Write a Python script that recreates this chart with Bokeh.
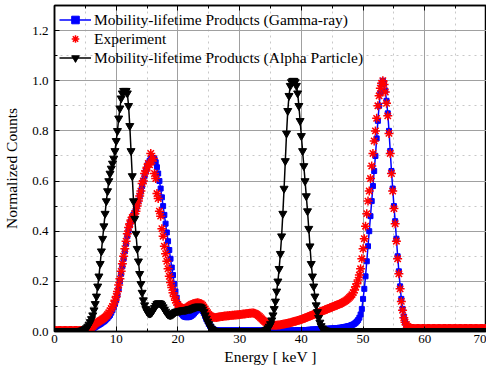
from bokeh.plotting import figure
from bokeh.models import LinearAxis, SingleIntervalTicker, CustomJSTickFormatter, Range1d
from bokeh.embed import file_html
from bokeh.resources import INLINE

# Energy grid (keV), 0.2 keV steps
energy = [round(i * 0.2, 1) for i in range(351)]

# Mobility-lifetime Products (Gamma-ray)
gamma = [
    0.003, 0.003, 0.003, 0.003, 0.003,  # 0
    0.003, 0.003, 0.003, 0.003, 0.003,  # 1
    0.003, 0.003, 0.003, 0.003, 0.003,  # 2
    0.003, 0.003, 0.003, 0.003, 0.003,  # 3
    0.003, 0.003, 0.003, 0.003, 0.003,  # 4
    0.003, 0.004, 0.005, 0.006, 0.008,  # 5
    0.01, 0.012, 0.015, 0.018, 0.021,  # 6
    0.024, 0.027, 0.03, 0.033, 0.037,  # 7
    0.04, 0.044, 0.049, 0.054, 0.06,  # 8
    0.066, 0.075, 0.085, 0.097, 0.11,  # 9
    0.125, 0.145, 0.17, 0.2, 0.23,  # 10
    0.26, 0.29, 0.32, 0.35, 0.38,  # 11
    0.405, 0.425, 0.44, 0.455, 0.465,  # 12
    0.475, 0.49, 0.505, 0.52, 0.54,  # 13
    0.56, 0.58, 0.6, 0.62, 0.64,  # 14
    0.655, 0.67, 0.68, 0.688, 0.692,  # 15
    0.692, 0.688, 0.675, 0.655, 0.63,  # 16
    0.6, 0.57, 0.535, 0.5, 0.465,  # 17
    0.43, 0.395, 0.36, 0.325, 0.29,  # 18
    0.255, 0.225, 0.19, 0.16, 0.135,  # 19
    0.11, 0.093, 0.08, 0.07, 0.064,  # 20
    0.06, 0.058, 0.057, 0.057, 0.058,  # 21
    0.06, 0.063, 0.067, 0.072, 0.078,  # 22
    0.083, 0.087, 0.09, 0.09, 0.088,  # 23
    0.082, 0.073, 0.062, 0.05, 0.04,  # 24
    0.03, 0.022, 0.016, 0.011, 0.008,  # 25
    0.006, 0.005, 0.004, 0.004, 0.004,  # 26
    0.004, 0.004, 0.004, 0.004, 0.004,  # 27
    0.004, 0.004, 0.004, 0.004, 0.004,  # 28
    0.004, 0.004, 0.004, 0.004, 0.004,  # 29
    0.004, 0.004, 0.004, 0.004, 0.004,  # 30
    0.004, 0.004, 0.004, 0.004, 0.004,  # 31
    0.004, 0.004, 0.004, 0.004, 0.004,  # 32
    0.004, 0.004, 0.004, 0.004, 0.004,  # 33
    0.004, 0.004, 0.004, 0.004, 0.004,  # 34
    0.004, 0.004, 0.004, 0.004, 0.004,  # 35
    0.004, 0.004, 0.004, 0.004, 0.004,  # 36
    0.004, 0.004, 0.004, 0.004, 0.004,  # 37
    0.004, 0.004, 0.004, 0.004, 0.004,  # 38
    0.004, 0.004, 0.005, 0.005, 0.005,  # 39
    0.005, 0.005, 0.006, 0.006, 0.006,  # 40
    0.006, 0.007, 0.007, 0.007, 0.008,  # 41
    0.008, 0.008, 0.008, 0.009, 0.009,  # 42
    0.009, 0.009, 0.01, 0.01, 0.01,  # 43
    0.01, 0.011, 0.011, 0.011, 0.012,  # 44
    0.012, 0.012, 0.013, 0.013, 0.014,  # 45
    0.014, 0.015, 0.015, 0.016, 0.017,  # 46
    0.018, 0.019, 0.02, 0.021, 0.022,  # 47
    0.024, 0.026, 0.028, 0.031, 0.035,  # 48
    0.04, 0.046, 0.055, 0.068, 0.09,  # 49
    0.13, 0.17, 0.22, 0.28, 0.34,  # 50
    0.4, 0.46, 0.52, 0.58, 0.64,  # 51
    0.7, 0.77, 0.84, 0.9, 0.95,  # 52
    0.985, 1.0, 0.99, 0.96, 0.92,  # 53
    0.87, 0.8, 0.72, 0.64, 0.57,  # 54
    0.5, 0.44, 0.37, 0.3, 0.24,  # 55
    0.18, 0.13, 0.09, 0.06, 0.04,  # 56
    0.027, 0.018, 0.012, 0.009, 0.007,  # 57
    0.006, 0.006, 0.005, 0.005, 0.005,  # 58
    0.005, 0.005, 0.005, 0.005, 0.005,  # 59
    0.005, 0.005, 0.005, 0.005, 0.005,  # 60
    0.005, 0.005, 0.005, 0.005, 0.005,  # 61
    0.005, 0.005, 0.005, 0.005, 0.005,  # 62
    0.005, 0.005, 0.005, 0.005, 0.005,  # 63
    0.005, 0.005, 0.005, 0.005, 0.005,  # 64
    0.005, 0.005, 0.005, 0.005, 0.005,  # 65
    0.005, 0.005, 0.005, 0.005, 0.005,  # 66
    0.005, 0.005, 0.005, 0.005, 0.005,  # 67
    0.005, 0.005, 0.005, 0.005, 0.005,  # 68
    0.005, 0.005, 0.005, 0.005, 0.005,  # 69
    0.005,  # 70
]

# Experiment
experiment = [
    0.004, 0.004, 0.004, 0.004, 0.004,  # 0
    0.004, 0.004, 0.004, 0.004, 0.004,  # 1
    0.004, 0.004, 0.004, 0.004, 0.004,  # 2
    0.004, 0.004, 0.004, 0.004, 0.004,  # 3
    0.004, 0.004, 0.004, 0.004, 0.004,  # 4
    0.005, 0.006, 0.008, 0.01, 0.013,  # 5
    0.016, 0.02, 0.025, 0.03, 0.034,  # 6
    0.037, 0.04, 0.043, 0.046, 0.05,  # 7
    0.053, 0.057, 0.062, 0.068, 0.075,  # 8
    0.083, 0.092, 0.1, 0.11, 0.125,  # 9
    0.14, 0.16, 0.185, 0.21, 0.24,  # 10
    0.27, 0.3, 0.33, 0.36, 0.39,  # 11
    0.415, 0.43, 0.445, 0.455, 0.46,  # 12
    0.47, 0.48, 0.5, 0.52, 0.54,  # 13
    0.56, 0.59, 0.6, 0.63, 0.64,  # 14
    0.655, 0.67, 0.665, 0.71, 0.68,  # 15
    0.69, 0.63, 0.61, 0.55, 0.53,  # 16
    0.48, 0.46, 0.41, 0.38, 0.34,  # 17
    0.31, 0.28, 0.25, 0.22, 0.195,  # 18
    0.175, 0.155, 0.14, 0.125, 0.115,  # 19
    0.107, 0.1, 0.096, 0.093, 0.092,  # 20
    0.092, 0.093, 0.095, 0.098, 0.102,  # 21
    0.105, 0.108, 0.11, 0.112, 0.113,  # 22
    0.114, 0.115, 0.114, 0.112, 0.11,  # 23
    0.105, 0.098, 0.09, 0.082, 0.075,  # 24
    0.068, 0.063, 0.06, 0.058, 0.057,  # 25
    0.056, 0.056, 0.057, 0.058, 0.059,  # 26
    0.06, 0.06, 0.061, 0.062, 0.062,  # 27
    0.063, 0.063, 0.064, 0.064, 0.065,  # 28
    0.065, 0.066, 0.066, 0.067, 0.067,  # 29
    0.068, 0.068, 0.069, 0.07, 0.07,  # 30
    0.071, 0.072, 0.072, 0.073, 0.073,  # 31
    0.074, 0.074, 0.073, 0.071, 0.068,  # 32
    0.064, 0.06, 0.055, 0.05, 0.045,  # 33
    0.041, 0.037, 0.034, 0.031, 0.029,  # 34
    0.027, 0.026, 0.025, 0.025, 0.025,  # 35
    0.025, 0.026, 0.026, 0.027, 0.028,  # 36
    0.029, 0.03, 0.031, 0.032, 0.033,  # 37
    0.034, 0.035, 0.037, 0.038, 0.04,  # 38
    0.041, 0.042, 0.044, 0.045, 0.047,  # 39
    0.048, 0.05, 0.052, 0.054, 0.056,  # 40
    0.058, 0.06, 0.062, 0.064, 0.066,  # 41
    0.068, 0.07, 0.072, 0.074, 0.076,  # 42
    0.078, 0.08, 0.082, 0.084, 0.086,  # 43
    0.088, 0.09, 0.092, 0.094, 0.096,  # 44
    0.098, 0.1, 0.102, 0.104, 0.106,  # 45
    0.108, 0.11, 0.112, 0.114, 0.117,  # 46
    0.12, 0.123, 0.127, 0.131, 0.136,  # 47
    0.141, 0.147, 0.155, 0.165, 0.178,  # 48
    0.19, 0.205, 0.225, 0.25, 0.29,  # 49
    0.33, 0.37, 0.42, 0.47, 0.52,  # 50
    0.56, 0.61, 0.66, 0.71, 0.76,  # 51
    0.8, 0.85, 0.9, 0.94, 0.97,  # 52
    0.99, 1.0, 0.985, 0.955, 0.91,  # 53
    0.86, 0.79, 0.71, 0.63, 0.56,  # 54
    0.49, 0.43, 0.36, 0.29, 0.23,  # 55
    0.17, 0.12, 0.085, 0.055, 0.037,  # 56
    0.028, 0.02, 0.016, 0.014, 0.013,  # 57
    0.012, 0.012, 0.012, 0.012, 0.012,  # 58
    0.012, 0.012, 0.012, 0.012, 0.012,  # 59
    0.012, 0.012, 0.012, 0.012, 0.012,  # 60
    0.012, 0.012, 0.012, 0.012, 0.012,  # 61
    0.012, 0.012, 0.012, 0.012, 0.012,  # 62
    0.012, 0.012, 0.012, 0.012, 0.012,  # 63
    0.012, 0.012, 0.012, 0.012, 0.012,  # 64
    0.012, 0.012, 0.012, 0.012, 0.012,  # 65
    0.012, 0.012, 0.012, 0.012, 0.012,  # 66
    0.012, 0.012, 0.012, 0.012, 0.012,  # 67
    0.012, 0.012, 0.012, 0.012, 0.012,  # 68
    0.012, 0.012, 0.012, 0.012, 0.012,  # 69
    0.012,  # 70
]

# Mobility-lifetime Products (Alpha Particle)
alpha = [
    0.002, 0.002, 0.002, 0.002, 0.002,  # 0
    0.002, 0.002, 0.002, 0.002, 0.002,  # 1
    0.002, 0.002, 0.002, 0.002, 0.002,  # 2
    0.002, 0.002, 0.002, 0.002, 0.002,  # 3
    0.002, 0.003, 0.004, 0.005, 0.007,  # 4
    0.01, 0.014, 0.02, 0.028, 0.038,  # 5
    0.05, 0.065, 0.085, 0.11, 0.14,  # 6
    0.18, 0.22, 0.27, 0.32, 0.37,  # 7
    0.42, 0.47, 0.52, 0.56, 0.6,  # 8
    0.63, 0.65, 0.67, 0.69, 0.72,  # 9
    0.76, 0.8, 0.85, 0.89, 0.93,  # 10
    0.95, 0.96, 0.96, 0.96, 0.95,  # 11
    0.9, 0.82, 0.72, 0.62, 0.52,  # 12
    0.45, 0.39, 0.33, 0.28, 0.23,  # 13
    0.19, 0.155, 0.125, 0.105, 0.09,  # 14
    0.08, 0.074, 0.072, 0.073, 0.078,  # 15
    0.085, 0.094, 0.103, 0.11, 0.113,  # 16
    0.113, 0.111, 0.105, 0.097, 0.088,  # 17
    0.08, 0.073, 0.068, 0.066, 0.066,  # 18
    0.067, 0.07, 0.074, 0.078, 0.08,  # 19
    0.081, 0.082, 0.083, 0.084, 0.085,  # 20
    0.085, 0.086, 0.087, 0.088, 0.089,  # 21
    0.09, 0.091, 0.093, 0.095, 0.097,  # 22
    0.099, 0.1, 0.1, 0.099, 0.095,  # 23
    0.088, 0.078, 0.065, 0.052, 0.04,  # 24
    0.03, 0.02, 0.012, 0.007, 0.004,  # 25
    0.003, 0.002, 0.002, 0.002, 0.002,  # 26
    0.002, 0.002, 0.002, 0.002, 0.002,  # 27
    0.002, 0.002, 0.002, 0.002, 0.002,  # 28
    0.002, 0.002, 0.002, 0.002, 0.002,  # 29
    0.002, 0.002, 0.002, 0.002, 0.002,  # 30
    0.002, 0.002, 0.002, 0.002, 0.002,  # 31
    0.002, 0.002, 0.002, 0.002, 0.002,  # 32
    0.002, 0.002, 0.002, 0.002, 0.002,  # 33
    0.003, 0.005, 0.008, 0.013, 0.02,  # 34
    0.03, 0.045, 0.065, 0.09, 0.12,  # 35
    0.16, 0.2, 0.25, 0.31, 0.38,  # 36
    0.47, 0.57, 0.68, 0.79, 0.88,  # 37
    0.94, 0.98, 0.995, 1.0, 1.0,  # 38
    0.995, 0.98, 0.95, 0.9, 0.84,  # 39
    0.78, 0.72, 0.66, 0.6, 0.54,  # 40
    0.48, 0.41, 0.34, 0.27, 0.22,  # 41
    0.18, 0.14, 0.105, 0.078, 0.055,  # 42
    0.036, 0.022, 0.013, 0.008, 0.005,  # 43
    0.004, 0.003, 0.002, 0.002, 0.002,  # 44
    0.002, 0.002, 0.002, 0.002, 0.002,  # 45
    0.002, 0.002, 0.002, 0.002, 0.002,  # 46
    0.002, 0.002, 0.002, 0.002, 0.002,  # 47
    0.002, 0.002, 0.002, 0.002, 0.002,  # 48
    0.002, 0.002, 0.002, 0.002, 0.002,  # 49
    0.002, 0.002, 0.002, 0.002, 0.002,  # 50
    0.002, 0.002, 0.002, 0.002, 0.002,  # 51
    0.002, 0.002, 0.002, 0.002, 0.002,  # 52
    0.002, 0.002, 0.002, 0.002, 0.002,  # 53
    0.002, 0.002, 0.002, 0.002, 0.002,  # 54
    0.002, 0.002, 0.002, 0.002, 0.002,  # 55
    0.002, 0.002, 0.002, 0.002, 0.002,  # 56
    0.002, 0.002, 0.002, 0.002, 0.002,  # 57
    0.002, 0.002, 0.002, 0.002, 0.002,  # 58
    0.002, 0.002, 0.002, 0.002, 0.002,  # 59
    0.002, 0.002, 0.002, 0.002, 0.002,  # 60
    0.002, 0.002, 0.002, 0.002, 0.002,  # 61
    0.002, 0.002, 0.002, 0.002, 0.002,  # 62
    0.002, 0.002, 0.002, 0.002, 0.002,  # 63
    0.002, 0.002, 0.002, 0.002, 0.002,  # 64
    0.002, 0.002, 0.002, 0.002, 0.002,  # 65
    0.002, 0.002, 0.002, 0.002, 0.002,  # 66
    0.002, 0.002, 0.002, 0.002, 0.002,  # 67
    0.002, 0.002, 0.002, 0.002, 0.002,  # 68
    0.002, 0.002, 0.002, 0.002, 0.002,  # 69
    0.002,  # 70
]

assert len(gamma) == len(energy), len(gamma)
assert len(experiment) == len(energy), len(experiment)
assert len(alpha) == len(energy), len(alpha)

label_gamma = "Mobility-lifetime Products (Gamma-ray)"
label_exp = "Experiment"
label_alpha = "Mobility-lifetime Products (Alpha Particle)"
x_title = "Energy [ keV ]"
y_title = "Normalized Counts"

FONT = "Liberation Serif"

p = figure(width=486, height=367, x_range=Range1d(0, 70), y_range=Range1d(0, 1.3),
           output_backend="svg", toolbar_location=None,
           min_border_left=0, min_border_right=0, min_border_top=5, min_border_bottom=0)
p.background_fill_color = "white"
p.border_fill_color = "white"
p.outline_line_color = "black"
p.outline_line_width = 1.5

xt = SingleIntervalTicker(interval=10, num_minor_ticks=2)
yt = SingleIntervalTicker(interval=0.2, num_minor_ticks=2)

def style_axis(ax, font):
    ax.axis_line_color = "black"
    ax.axis_line_width = 1.5
    ax.major_tick_in = 5
    ax.major_tick_out = 0
    ax.minor_tick_in = 3
    ax.minor_tick_out = 0
    ax.major_tick_line_color = "black"
    ax.minor_tick_line_color = "black"
    ax.major_label_text_font = font
    ax.major_label_text_font_size = "13px"
    ax.major_label_text_color = "black"
    ax.axis_label_text_font = font
    ax.axis_label_text_font_size = "15.5px"
    ax.axis_label_text_font_style = "normal"
    ax.axis_label_text_color = "black"

p.xaxis[0].ticker = xt
p.yaxis[0].ticker = yt
p.xaxis[0].axis_label = x_title
p.yaxis[0].axis_label = y_title
p.xaxis[0].major_label_standoff = 3
p.xaxis[0].axis_label_standoff = 2
p.yaxis[0].major_label_standoff = 6
p.yaxis[0].axis_label_standoff = 9
p.yaxis[0].formatter = CustomJSTickFormatter(code="return tick.toFixed(1);")
style_axis(p.xaxis[0], FONT)
style_axis(p.yaxis[0], FONT)

blank = CustomJSTickFormatter(code="return '';")
top = LinearAxis(ticker=SingleIntervalTicker(interval=10, num_minor_ticks=2), formatter=blank,
                 major_label_standoff=0)
style_axis(top, FONT)
top.major_label_text_font_size = "0px"
p.add_layout(top, "above")

for g, t in ((p.xgrid[0], xt), (p.ygrid[0], yt)):
    g.ticker = t
    g.grid_line_color = "#a0a0a0"
    g.grid_line_width = 1
    g.minor_grid_line_color = "#c8c8c8"
    g.minor_grid_line_dash = "dotted"
    g.minor_grid_line_width = 1

p.line(energy, gamma, line_color="blue", line_width=1.5, legend_label=label_gamma)
p.scatter(energy, gamma, marker="square", size=5, fill_color="blue", line_color="blue",
          legend_label=label_gamma)
p.scatter(energy, experiment, marker="asterisk", size=9, line_color="red", line_width=1.5,
          legend_label=label_exp)
p.line(energy, alpha, line_color="black", line_width=1.5, legend_label=label_alpha)
p.scatter(energy, alpha, marker="inverted_triangle", size=8, fill_color="black",
          line_color="black", legend_label=label_alpha)

lg = p.legend[0]
lg.location = "top_left"
lg.border_line_alpha = 0
lg.background_fill_alpha = 0
lg.label_text_font = FONT
lg.label_text_font_size = "15.5px"
lg.label_text_color = "black"
lg.glyph_width = 32
lg.glyph_height = 19
lg.label_height = 19
lg.spacing = 0
lg.padding = 5
lg.margin = 0
lg.label_standoff = 3

open("out.html", "w").write(file_html(p, INLINE))
